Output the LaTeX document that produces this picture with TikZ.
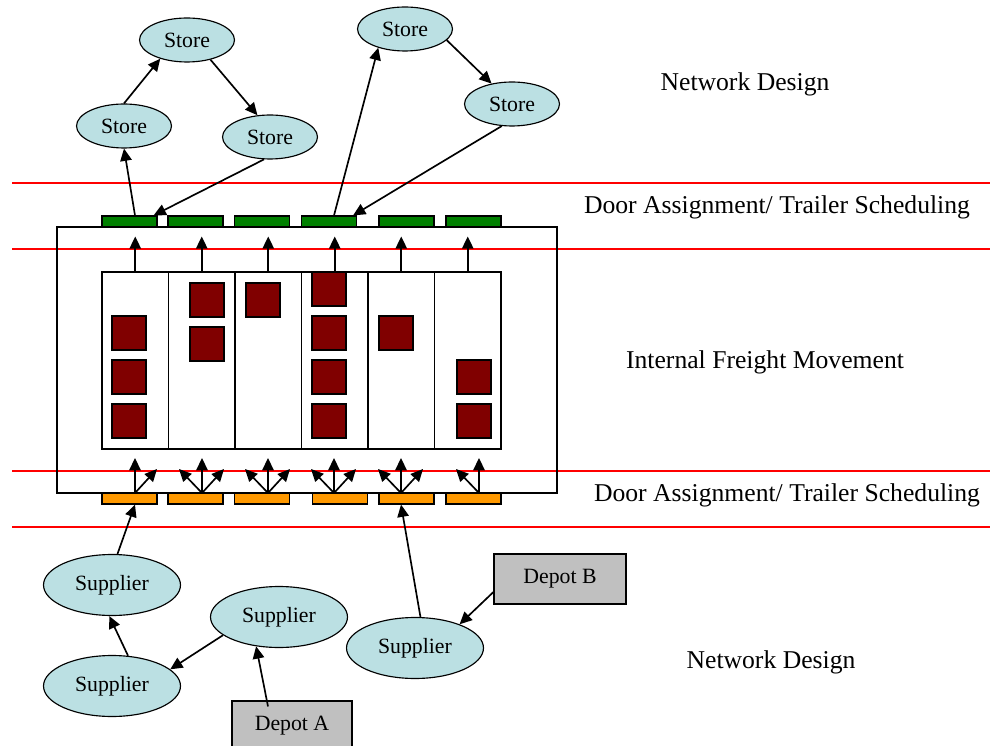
\documentclass[tikz,border=0pt]{standalone}
\usepackage{fontspec}
\setmainfont{Liberation Serif}
\usetikzlibrary{shapes.geometric,arrows.meta}

\definecolor{storeblue}{HTML}{BBE0E3}
\definecolor{doorgreen}{HTML}{008000}
\definecolor{doororange}{HTML}{FF9900}
\definecolor{freight}{HTML}{800000}
\definecolor{depotgray}{HTML}{C0C0C0}

\begin{document}
\begin{tikzpicture}[x=0.02cm,y=-0.02cm,
    >={Triangle[length=7pt,width=6.5pt]},
    site/.style={ellipse,draw,line width=0.65pt,fill=storeblue,inner sep=0pt,font=\fontsize{12.4}{14}\selectfont},
    store/.style={site,minimum width=1.9cm,minimum height=0.88cm},
    supplier/.style={site,minimum width=2.74cm,minimum height=1.22cm},
    depot/.style={draw,line width=0.65pt,fill=depotgray,minimum width=2.64cm,minimum height=1cm,font=\fontsize{12.4}{14}\selectfont},
    door/.style={draw,line width=0.65pt,minimum width=1.1cm,minimum height=0.22cm,inner sep=0pt},
    aisle/.style={draw,line width=0.65pt,minimum width=1.33cm,minimum height=3.54cm,inner sep=0pt},
    crate/.style={draw,line width=0.65pt,fill=freight,minimum size=0.68cm,inner sep=0pt},
    layer/.style={font=\fontsize{14.6}{17}\selectfont},
    sep/.style={red,line width=0.75pt},
    link/.style={->,line width=0.95pt}]
  % \draw[help lines,step=50] (0,0) grid (990,746);
  \useasboundingbox (0,0) rectangle (990,746);

  % layer boundaries
  \foreach \y in {183,249,471,527}
    \draw[sep] (12,\y) -- (990,\y);

  % cross dock with its aisles and freight
  \draw[line width=0.65pt] (57,227) rectangle (557,493);
  \foreach \i in {1,...,6}
    \node[aisle] (ai\i) at ({135.25+66.5*(\i-1)},360.5) {};
  \foreach \x/\y in {129/333,129/377,129/421,207/300,207/344,263/300,
      329/289,329/333,329/377,329/421,396/333,474/377,474/421}
    \node[crate] at (\x,\y) {};

  % outbound and inbound doors
  \foreach \x [count=\i] in {129.5,195.5,262,329,406.5,473.5}
    \node[door,fill=doorgreen] (gd\i) at (\x,221.5) {};
  \foreach \x [count=\i] in {129.5,195.5,262,340,406.5,473.5}
    \node[door,fill=doororange] (od\i) at (\x,498.5) {};
  \foreach \x [count=\i] in {135,202,268,334,401,479}
    \coordinate (f\i) at (\x,493);

  \foreach \i in {1,...,6}
    \draw[link] (ai\i.north) -- ++(0,-35);
  \foreach \i in {1,...,6}
    \draw[link] (f\i) -- ++(0,-35);
  \foreach \i in {2,...,6}
    \draw[link] (f\i) -- ++(-23,-24);
  \foreach \i in {1,...,5}
    \draw[link] (f\i) -- ++(22,-24);

  % stores
  \node[store] (s1) at (187,40) {Store};
  \node[store] (s2) at (124,126) {Store};
  \node[store] (s3) at (270,137) {Store};
  \node[store] (s4) at (405,29) {Store};
  \node[store] (s5) at (512,104) {Store};

  \draw[link] (f1 |- gd1.north) -- (s2.south);
  \draw[link] (s3.255) -- ([xshift=-0.08cm]gd1.north east);
  \draw[link] (s2.north) -- (s1.215);
  \draw[link] (s1.320) -- (s3.120);
  \draw[link] (f4 |- gd4.north) -- (s4.215);
  \draw[link] (s5.245) -- ([xshift=-0.08cm]gd4.north east);
  \draw[link] (s4.345) -- (s5.135);

  % suppliers and depots
  \node[supplier] (sp1) at (112,585) {Supplier};
  \node[supplier] (sp2) at (112,686) {Supplier};
  \node[supplier] (sp3) at (279,617) {Supplier};
  \node[supplier] (sp4) at (415,648) {Supplier};
  \node[depot,minimum width=2.4cm] (depA) at (292,726) {Depot A};
  \node[depot] (depB) at (560,579) {Depot B};

  \draw[link] (sp1.80) -- (f1 |- od1.south);
  \draw[link] (sp4.80) -- (f5 |- od5.south);
  \draw[link] (sp2.62) -- (sp1.265);
  \draw[link] (sp3.198) -- (sp2.16);
  \draw[link] ([xshift=-0.48cm,yshift=-0.12cm]depA.north) -- (sp3.232);
  \draw[link] ([yshift=-0.26cm]depB.west) -- (sp4.28);

  % layer names
  \node[layer] (nd1) at (745,84) {Network Design};
  \node[layer] (da1) at (777,207) {Door Assignment/ Trailer Scheduling};
  \node[layer] (ifm) at (765,362) {Internal Freight Movement};
  \node[layer] (da2) at (787,495) {Door Assignment/ Trailer Scheduling};
  \node[layer] (nd2) at (771,662) {Network Design};
\end{tikzpicture}
\end{document}
